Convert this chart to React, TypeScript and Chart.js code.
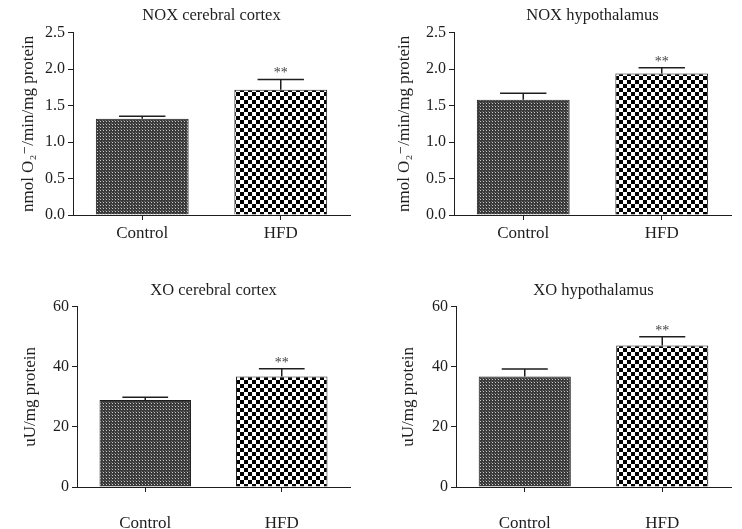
import React, { useEffect, useRef } from "react";
import { Chart, registerables } from "chart.js";

Chart.register(...registerables);

// ---- data ----
const categories = ["Control", "HFD"];
const noxCortexMean = [1.32, 1.72];
const noxCortexSem = [0.035, 0.14];
const noxHypoMean = [1.58, 1.94];
const noxHypoSem = [0.09, 0.08];
const xoCortexMean = [28.95, 36.8];
const xoCortexSem = [0.95, 2.6];
const xoHypoMean = [36.8, 47.1];
const xoHypoSem = [2.5, 2.9];
const significance = ["", "**"];
const noxTicks = [0, 0.5, 1.0, 1.5, 2.0, 2.5];
const xoTicks = [0, 20, 40, 60];
const titles = ["NOX cerebral cortex", "NOX hypothalamus", "XO cerebral cortex", "XO hypothalamus"];
const noxUnit = "nmol O\u2082\u207B/min/mg protein";
const xoUnit = "uU/mg protein";

const FONT = "'Liberation Serif', 'DejaVu Serif', serif";
const INK = "#1e1e1e";

type Panel = {
  title: string;
  unit: string;
  mean: number[];
  sem: number[];
  ticks: number[];
  decimals: number;
  left: number;
  top: number;
  w: number;
  h: number;
  axisW: number;
  axisH: number;
  padRight: number;
  titleTop: number;
  titleBottom: number;
  yTitlePad: number;
  xLabelPad: number;
};

const panels: Panel[] = [
  { title: titles[0], unit: noxUnit, mean: noxCortexMean, sem: noxCortexSem, ticks: noxTicks, decimals: 1,
    left: 0, top: 0, w: 371, h: 264, axisW: 73, axisH: 49, padRight: 21, titleTop: 6, titleBottom: 7, yTitlePad: 18, xLabelPad: 3 },
  { title: titles[1], unit: noxUnit, mean: noxHypoMean, sem: noxHypoSem, ticks: noxTicks, decimals: 1,
    left: 371, top: 0, w: 371, h: 264, axisW: 83, axisH: 49, padRight: 11, titleTop: 6, titleBottom: 7, yTitlePad: 23, xLabelPad: 3 },
  { title: titles[2], unit: xoUnit, mean: xoCortexMean, sem: xoCortexSem, ticks: xoTicks, decimals: 0,
    left: 0, top: 264, w: 371, h: 265, axisW: 77, axisH: 42, padRight: 21, titleTop: 17, titleBottom: 6, yTitlePad: 20, xLabelPad: 21 },
  { title: titles[3], unit: xoUnit, mean: xoHypoMean, sem: xoHypoSem, ticks: xoTicks, decimals: 0,
    left: 371, top: 264, w: 371, h: 265, axisW: 85, axisH: 42, padRight: 11, titleTop: 17, titleBottom: 6, yTitlePad: 27, xLabelPad: 21 },
];

function makeFinePattern(): CanvasPattern | string {
  const c = document.createElement("canvas");
  c.width = 3;
  c.height = 3;
  const g = c.getContext("2d");
  if (!g) return "#4c4c4c";
  g.fillStyle = "#3a3a3a";
  g.fillRect(0, 0, 3, 3);
  g.fillStyle = "#c8c8c8";
  g.fillRect(1, 1, 1, 1);
  g.fillStyle = "#6a6a6a";
  g.fillRect(0, 0, 1, 1);
  const p = g.createPattern(c, "repeat");
  return p || "#4c4c4c";
}

function makeCheckPattern(): CanvasPattern | string {
  const c = document.createElement("canvas");
  c.width = 8;
  c.height = 8;
  const g = c.getContext("2d");
  if (!g) return "#808080";
  g.fillStyle = "#ffffff";
  g.fillRect(0, 0, 8, 8);
  g.fillStyle = "#000000";
  g.fillRect(0, 0, 4, 4);
  g.fillRect(4, 4, 4, 4);
  const p = g.createPattern(c, "repeat");
  return p || "#808080";
}

function makeErrorPlugin(mean: number[], sem: number[], marks: string[]) {
  return {
    id: "errorBars",
    afterDatasetsDraw(chart: any) {
      const { ctx } = chart;
      const meta = chart.getDatasetMeta(0);
      const yScale = chart.scales.y;
      ctx.save();
      ctx.strokeStyle = INK;
      ctx.lineWidth = 1.5;
      meta.data.forEach((bar: any, i: number) => {
        const x = bar.x;
        const w = bar.width;
        const yTop = yScale.getPixelForValue(mean[i]);
        const yErr = yScale.getPixelForValue(mean[i] + sem[i]);
        ctx.beginPath();
        ctx.moveTo(x, yTop);
        ctx.lineTo(x, yErr);
        ctx.moveTo(x - w / 4, yErr);
        ctx.lineTo(x + w / 4, yErr);
        ctx.stroke();
        if (marks[i]) {
          ctx.font = `14px ${FONT}`;
          ctx.fillStyle = "#444";
          ctx.textAlign = "center";
          ctx.textBaseline = "alphabetic";
          ctx.fillText(marks[i], x, yErr - 2);
        }
      });
      ctx.restore();
    },
  };
}

export default function App() {
  const refs = useRef<(HTMLCanvasElement | null)[]>([]);

  useEffect(() => {
    const fine = makeFinePattern();
    const check = makeCheckPattern();
    const charts: Chart[] = [];
    panels.forEach((p, idx) => {
      const canvas = refs.current[idx];
      if (!canvas) return;
      const chart = new Chart(canvas, {
        type: "bar",
        data: {
          labels: categories,
          datasets: [
            {
              data: p.mean,
              backgroundColor: [fine, check] as any,
              borderColor: INK,
              borderWidth: 1,
              barPercentage: 0.67,
              categoryPercentage: 1.0,
            },
          ],
        },
        options: {
          responsive: false,
          animation: false,
          devicePixelRatio: 1,
          layout: { padding: { left: 0, right: p.padRight, top: 0, bottom: 0 } },
          plugins: {
            legend: { display: false },
            tooltip: { enabled: false },
            title: {
              display: true,
              fullSize: false,
              text: p.title,
              color: INK,
              font: { family: FONT, size: 16.5, weight: "normal", lineHeight: 1.2 },
              padding: { top: p.titleTop, bottom: p.titleBottom },
            },
          },
          scales: {
            x: {
              type: "category",
              offset: true,
              border: { display: true, color: INK, width: 1 },
              grid: { display: true, drawOnChartArea: false, drawTicks: true, tickLength: 5, offset: false, color: INK },
              ticks: { color: INK, padding: p.xLabelPad, font: { family: FONT, size: 17 }, maxRotation: 0 },
              afterFit: (s: any) => {
                s.height = p.axisH;
              },
            },
            y: {
              type: "linear",
              min: p.ticks[0],
              max: p.ticks[p.ticks.length - 1],
              border: { display: true, color: INK, width: 1 },
              grid: { display: true, drawOnChartArea: false, drawTicks: true, tickLength: 5, color: INK },
              ticks: {
                color: INK,
                padding: 3,
                font: { family: FONT, size: 16 },
                callback: (v: any) => Number(v).toFixed(p.decimals),
              },
              afterBuildTicks: (s: any) => {
                s.ticks = p.ticks.map((v) => ({ value: v }));
              },
              title: {
                display: true,
                text: p.unit,
                color: INK,
                font: { family: FONT, size: 17, lineHeight: 1.2 },
                padding: { top: p.yTitlePad, bottom: 0 },
              },
              afterFit: (s: any) => {
                s.width = p.axisW;
              },
            },
          },
        },
        plugins: [makeErrorPlugin(p.mean, p.sem, significance)],
      } as any);
      charts.push(chart);
    });
    return () => charts.forEach((c) => c.destroy());
  }, []);

  return (
    <div
      style={{
        position: "fixed",
        left: 0,
        top: 0,
        width: 742,
        height: 529,
        overflow: "hidden",
        background: "#ffffff",
      }}
    >
      {panels.map((p, i) => (
        <canvas
          key={i}
          ref={(el) => {
            refs.current[i] = el;
          }}
          width={p.w}
          height={p.h}
          style={{ position: "absolute", left: p.left, top: p.top, width: p.w, height: p.h }}
        />
      ))}
    </div>
  );
}
